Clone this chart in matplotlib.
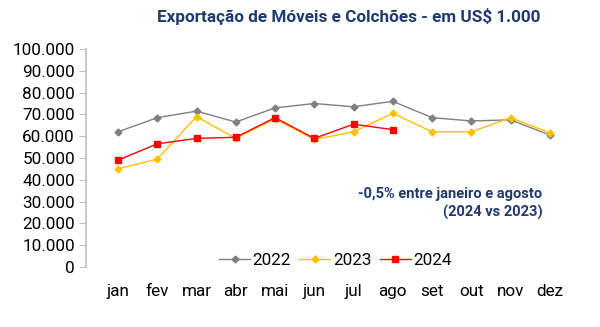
import matplotlib.pyplot as plt
from matplotlib.ticker import FuncFormatter

plt.rcParams['font.family'] = ['Roboto', 'DejaVu Sans']

meses = ["jan", "fev", "mar", "abr", "mai", "jun", "jul", "ago", "set", "out", "nov", "dez"]
v2022 = [62000, 68500, 71500, 66500, 73000, 75000, 73500, 76000, 68500, 67000, 67500, 60500]
v2023 = [45000, 49500, 69000, 59000, 68000, 58500, 62000, 70500, 62000, 62000, 68500, 61500]
v2024 = [49000, 56500, 59000, 59500, 68500, 59000, 65500, 63000]

navy = "#1F3A6E"

fig = plt.figure(figsize=(6, 3.27), dpi=100)
ax = fig.add_axes([86 / 600, 1 - 267 / 327, (575 - 86) / 600, (267 - 49) / 327])

x = list(range(len(meses)))
ax.plot(x, v2022, color="#808080", marker="D", markersize=3.5, lw=1.0, label="2022")
ax.plot(x, v2023, color="#FFC000", marker="D", markersize=3.5, lw=1.0, label="2023")
ax.plot(x[:len(v2024)], v2024, color="#FF0000", marker="s", markersize=4, lw=1.0, label="2024")

ax.set_ylim(0, 100000)
ax.set_xlim(-0.815, 11.64)
ax.set_yticks(range(0, 100001, 10000))
ax.yaxis.set_major_formatter(FuncFormatter(lambda v, p: f"{int(v):,}".replace(",", ".")))
ax.set_xticks(x)
ax.set_xticklabels(meses)

for s in ["top", "right", "bottom"]:
    ax.spines[s].set_visible(False)
ax.spines["left"].set_color("#BFBFBF")
ax.spines["left"].set_linewidth(1.2)
ax.tick_params(axis="y", direction="out", length=5, color="#BFBFBF", labelsize=12.3, pad=3)
ax.tick_params(axis="x", length=0, labelsize=12.3, pad=12)

ax.legend(loc="lower center", bbox_to_anchor=(0.51, -0.075), ncol=3, frameon=False,
          fontsize=12.3, handlelength=1.8, handletextpad=0.15, columnspacing=0.5)

ax.text(0.933, 0.29, "-0,5% entre janeiro e agosto\n(2024 vs 2023)", transform=ax.transAxes,
        ha="right", va="center", color=navy, fontsize=10.5, fontweight="bold", linespacing=1.35)

fig.text(0.9, 0.975, "Exportação de Móveis e Colchões - em US$ 1.000", ha="right", va="top",
         color=navy, fontsize=12.3, fontweight="bold")

fig.savefig("out.png", dpi=100)
